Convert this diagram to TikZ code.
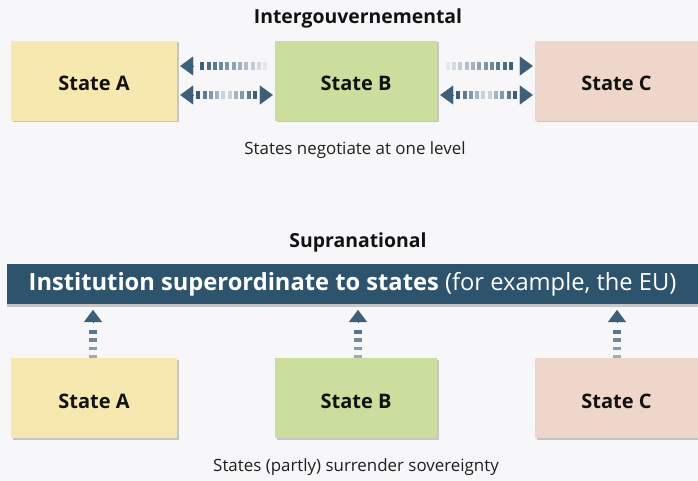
\documentclass[tikz,border=0pt]{standalone}
\usepackage{fontspec}
\setmainfont{Open Sans}
\usetikzlibrary{calc,positioning,arrows.meta,shadows}
\definecolor{bgc}{HTML}{F7F7F9}
\definecolor{stA}{HTML}{F7E8B0}
\definecolor{stB}{HTML}{CCDE9E}
\definecolor{stC}{HTML}{EED7CA}
\definecolor{inst}{HTML}{2E536D}
\definecolor{arr}{HTML}{3E5F78}
\tikzset{
    statebox/.style={minimum width=#1, minimum height=80pt, inner sep=0pt,
        text height=20pt, text depth=0pt,
        font=\fontsize{20}{23}\selectfont\bfseries, text=black!93,
        drop shadow={shadow xshift=1.5pt, shadow yshift=-1.5pt, opacity=.2, fill=black}},
    headtip/.style={draw=arr, fill=arr, line width=.1pt, -{Triangle[width=19pt,length=13pt]}},
    uptip/.style={draw=arr, fill=arr, line width=.1pt, -{Triangle[width=18pt,length=12pt]}},
    dashseg/.style={draw=arr, line width=8pt},
    caption/.style={font=\fontsize{16.9}{20}\selectfont, text=black!88},
    heading/.style={font=\fontsize{19.4}{23}\selectfont\bfseries, text=black!93}
}
\begin{document}
\begin{tikzpicture}[x=1pt, y=-1pt]
    \fill[bgc] (0,0) rectangle (698,481);
    \useasboundingbox (0,0) rectangle (698,481);
    \node[heading] (inter) at (358,18) {Intergouvernemental};
    \node[statebox=166pt, fill=stA] (tA) at (94,81) {State A};
    \node[statebox=162pt, fill=stB] (tB) at (356,81) {State B};
    \node[statebox=163pt, fill=stC] (tC) at (616.5,81) {State C};
    \node[caption] (neg) at (355,150) {States negotiate at one level};
    \coordinate (ab1) at ($(tA.east)+(3,-15)$);
    \coordinate (ab2) at ($(tB.west)+(-5,-15)$);
    \coordinate (bc1) at ($(tB.east)+(3,-15)$);
    \coordinate (bc2) at ($(tC.west)+(-2,-15)$);
    \coordinate (ab3) at ($(tA.east)+(3,14)$);
    \coordinate (ab4) at ($(tB.west)+(-2,14)$);
    \coordinate (bc3) at ($(tB.east)+(3,14)$);
    \coordinate (bc4) at ($(tC.west)+(-2,14)$);
    \draw[headtip] ($(ab1)!13pt!(ab2)$) -- (ab1);
    \draw[headtip] ($(bc2)!13pt!(bc1)$) -- (bc2);
    \foreach \k [evaluate=\k as \d using 20+6.3*\k, evaluate=\k as \e using 24+6.3*\k,
                 evaluate=\k as \op using 1-0.09*\k] in {0,...,10} {
        \draw[dashseg, opacity=\op] ($(ab1)!\d pt!(ab2)$) -- ($(ab1)!\e pt!(ab2)$);
        \draw[dashseg, opacity=\op] ($(bc2)!\d pt!(bc1)$) -- ($(bc2)!\e pt!(bc1)$);
    }
    \draw[headtip] ($(ab3)!13pt!(ab4)$) -- (ab3);
    \draw[headtip] ($(ab4)!13pt!(ab3)$) -- (ab4);
    \draw[headtip] ($(bc3)!13pt!(bc4)$) -- (bc3);
    \draw[headtip] ($(bc4)!13pt!(bc3)$) -- (bc4);
    \foreach \k [evaluate=\k as \d using 16+6.3*\k, evaluate=\k as \e using 20+6.3*\k,
                 evaluate=\k as \op using 0.15+0.85*abs(2*\k/9-1)] in {0,...,9} {
        \draw[dashseg, opacity=\op] ($(ab3)!\d pt!(ab4)$) -- ($(ab3)!\e pt!(ab4)$);
        \draw[dashseg, opacity=\op] ($(bc3)!\d pt!(bc4)$) -- ($(bc3)!\e pt!(bc4)$);
    }
    \node[heading] (supra) at (358,242) {Supranational};
    \node[fill=inst, minimum width=691pt, minimum height=40pt, inner sep=0pt, text=white,
          font=\fontsize{23.7}{27}\selectfont,
          drop shadow={shadow xshift=0pt, shadow yshift=-2.5pt, opacity=.2, fill=black}]
          (sup) at (352.5,284) {\textbf{Institution superordinate to states} (for example, the EU)};
    \node[statebox=166pt, fill=stA] (lA) at (94,398) {State A};
    \node[statebox=162pt, fill=stB] (lB) at (356,398) {State B};
    \node[statebox=163pt, fill=stC] (lC) at (616.5,398) {State C};
    \node[caption] (surr) at (356,467) {States (partly) surrender sovereignty};
    \foreach \s/\x in {A/93, B/358, C/617} {
        \coordinate (up\s) at (\x,310);
        \coordinate (dn\s) at (\x,358);
        \draw[uptip] ($(up\s)!12pt!(dn\s)$) -- (up\s);
        \foreach \k [evaluate=\k as \d using 20+8.3*\k, evaluate=\k as \e using 23.5+8.3*\k,
                     evaluate=\k as \op using 0.85-0.12*\k] in {0,...,3}
            \draw[dashseg, opacity=\op] ($(up\s)!\d pt!(dn\s)$) -- ($(up\s)!\e pt!(dn\s)$);
    }
\end{tikzpicture}
\end{document}
